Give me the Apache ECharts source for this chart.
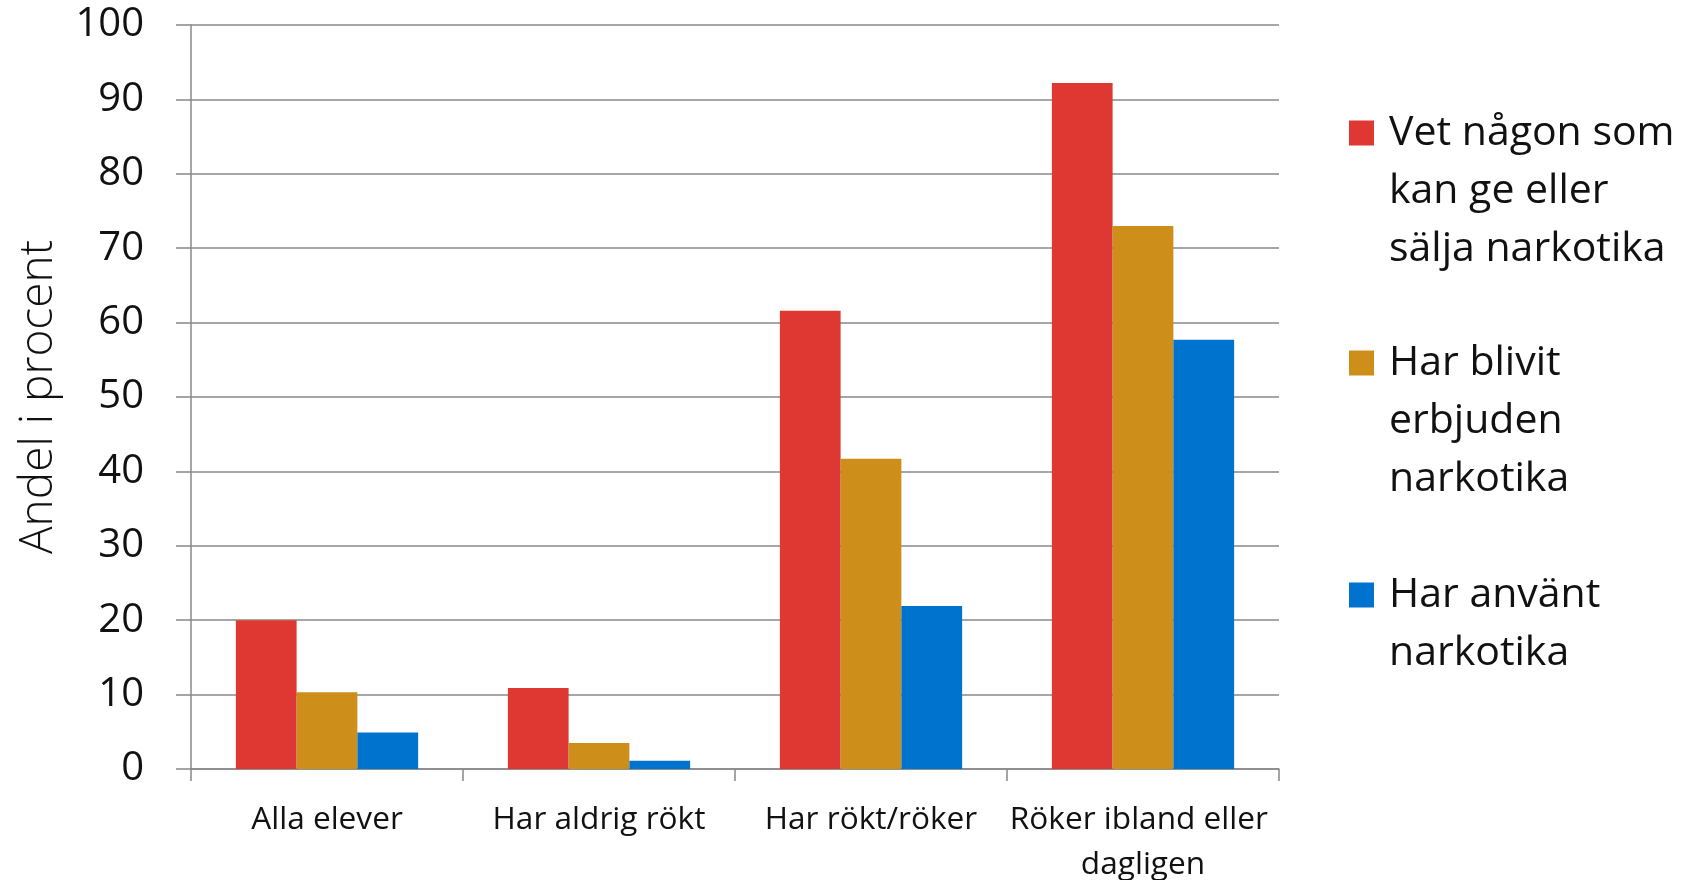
<!DOCTYPE html>
<html>
<head>
<meta charset="utf-8">
<script src="https://cdn.jsdelivr.net/npm/echarts@6/dist/echarts.min.js"></script>
<style>
html,body{margin:0;padding:0;background:#fff;}
#chart{width:1681px;height:880px;}
</style>
</head>
<body>
<div id="chart"></div>
<script>
const categories = ['Alla elever', 'Har aldrig rökt', 'Har rökt/röker', 'Röker ibland eller dagligen'];
const seriesNames = ['Vet någon som kan ge eller sälja narkotika', 'Har blivit erbjuden narkotika', 'Har använt narkotika'];
const legendLabels = ['Vet någon som\nkan ge eller\nsälja narkotika', 'Har blivit\nerbjuden\nnarkotika', 'Har använt\nnarkotika'];
const vetNagon = [20.0, 10.9, 61.6, 92.2];
const erbjuden = [10.3, 3.5, 41.7, 73.0];
const anvant = [4.9, 1.1, 21.9, 57.7];
const yTicks = [0, 10, 20, 30, 40, 50, 60, 70, 80, 90, 100];
const colors = ['#DF3832', '#CD8E1A', '#0073CF'];

const FONT = '"Open Sans", "Noto Sans", sans-serif';
const L = 58.4;
const legendFirstLine = [133, 363, 595];
const values = [vetNagon, erbjuden, anvant];

const legends = seriesNames.map((name, i) => {
  const lines = legendLabels[i].split('\n');
  const n = lines.length;
  // blank lines before the text so the icon sits level with the first line
  const blank = new Array(n - 1).fill('{t| }');
  const label = blank.concat(lines.map(l => '{t|' + l + '}')).join('\n');
  return {
    orient: 'vertical',
    left: 1349,
    top: legendFirstLine[i] - (2 * n - 1) * L / 2,
    padding: 0,
    itemWidth: 25,
    itemHeight: 25,
    icon: 'rect',
    data: [name],
    formatter: () => label,
    selectedMode: false,
    textStyle: {
      fontFamily: FONT,
      fontSize: 41,
      fontWeight: 400,
      color: '#111',
      lineHeight: L,
      rich: {
        t: {
          fontFamily: FONT,
          fontSize: 41,
          fontWeight: 400,
          color: '#111',
          lineHeight: L,
          padding: [0, 0, 0, 10]
        }
      }
    }
  };
});

const chart = echarts.init(document.getElementById('chart'), null, {renderer: 'canvas'});
chart.setOption({
  backgroundColor: '#fff',
  animation: false,
  color: colors,
  grid: {left: 191, right: 402, top: 25, bottom: 111, containLabel: false, outerBoundsMode: 'none'},
  legend: legends,
  xAxis: {
    type: 'category',
    data: categories,
    axisLine: {lineStyle: {color: '#888', width: 1.5}},
    axisTick: {show: true, length: 12, lineStyle: {color: '#888', width: 1.5}},
    axisLabel: {
      fontFamily: FONT, fontSize: 31.6, fontWeight: 400, color: '#111',
      margin: 28, lineHeight: 45, width: 290, overflow: 'break', interval: 0
    }
  },
  yAxis: {
    type: 'value',
    min: yTicks[0], max: yTicks[yTicks.length - 1], interval: 10,
    name: 'Andel i procent',
    nameLocation: 'middle',
    nameGap: 129,
    nameRotate: 90,
    nameTextStyle: {fontFamily: FONT, fontSize: 46, fontWeight: 300, color: '#111'},
    axisLine: {show: true, lineStyle: {color: '#888', width: 1.5}},
    axisTick: {show: true, length: 15, lineStyle: {color: '#888', width: 1.5}},
    splitLine: {show: true, lineStyle: {color: '#888', width: 1.5}},
    axisLabel: {fontFamily: FONT, fontSize: 40, fontWeight: 400, color: '#111', margin: 47}
  },
  series: seriesNames.map((name, i) => ({
    name: name,
    type: 'bar',
    data: values[i],
    barGap: '0%',
    barCategoryGap: '33%',
    itemStyle: {color: colors[i]}
  }))
});
</script>
</body>
</html>
